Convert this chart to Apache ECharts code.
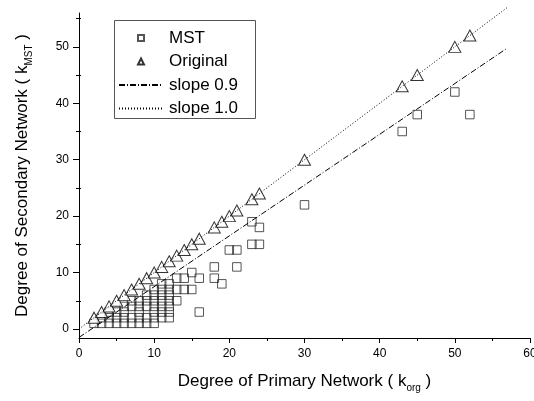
<!DOCTYPE html>
<html>
<head>
<meta charset="utf-8">
<script src="https://cdn.jsdelivr.net/npm/echarts@6.0.0/dist/echarts.min.js"></script>
<style>
  html, body { margin: 0; padding: 0; background: #fff; }
  #chart { width: 534px; height: 401px; }
</style>
</head>
<body>
<div id="chart"></div>
<script>
// MST network: degree in primary network (x) vs degree in secondary network (y)
const mstK = [
  2,
  3, 3,
  4, 4, 4,
  5, 5, 5,
  6, 6, 6, 6,
  7, 7, 7, 7,
  8, 8, 8, 8, 8,
  9, 9, 9, 9, 9,
  10, 10, 10, 10, 10, 10, 10,
  11, 11, 11, 11, 11, 11, 11,
  12, 12, 12, 12, 12, 12, 12,
  13, 13, 13,
  14, 14,
  15, 15,
  16, 16,
  18, 18, 19, 20, 21, 21, 23, 23, 24, 24, 30, 43, 45, 50, 52
];
const mstDeg = [
  1,
  1, 2,
  1, 2, 3,
  1, 2, 3,
  1, 2, 3, 4,
  1, 2, 4, 5,
  1, 2, 3, 4, 5,
  1, 2, 4, 5, 6,
  1, 2, 3, 4, 5, 6, 7,
  2, 3, 4, 5, 6, 7, 8,
  2, 3, 4, 5, 6, 7, 8,
  5, 7, 9,
  7, 9,
  7, 10,
  3, 9,
  9, 11, 8, 14, 11, 14, 15, 19, 15, 18, 22, 35, 38, 42, 38
];

// Original network (secondary degree equals primary degree)
const origK   = [2, 3, 4, 5, 6, 7, 8, 9, 10, 11, 12, 13, 14, 15, 16, 18, 19, 20, 21, 23, 24, 30, 43, 45, 50, 52];
const origDeg = [2, 3, 4, 5, 6, 7, 8, 9, 10, 11, 12, 13, 14, 15, 16, 18, 19, 20, 21, 23, 24, 30, 43, 45, 50, 52];

// reference lines, end points
const fitX     = [0, 57];
const slope09Y = [-1.5, 49.8];
const slope10Y = [0, 57];

const yTicks      = [0, 10, 20, 30, 40, 50];
const yMinorTicks = [5, 15, 25, 35, 45, 55];

const FONT = '"Liberation Sans", Arial, sans-serif';
const pair = (xs, ys) => xs.map((x, i) => [x, ys[i]]);

const chart = echarts.init(document.getElementById('chart'));

const nameRich = {
  a: { fontFamily: FONT, fontSize: 17, color: '#000', lineHeight: 24, verticalAlign: 'middle' },
  b: { fontFamily: FONT, fontSize: 10, color: '#000', lineHeight: 24, verticalAlign: 'bottom' }
};
const black = { color: '#000', width: 1 };

// extra y axes only carry the minor ticks (outside + inside, so they cross the line)
const minorY = (inside) => ({
  type: 'value', min: -1.6, max: 56, position: 'left',
  axisLine: { show: false },
  axisTick: { show: true, inside, length: inside ? 2 : 3, customValues: yMinorTicks, lineStyle: black },
  axisLabel: { show: false },
  splitLine: { show: false }
});

chart.setOption({
  animation: false,
  grid: { left: 79, right: 4, top: 13, bottom: 63, outerBoundsMode: 'none' },
  xAxis: {
    type: 'value', min: 0, max: 60, interval: 10,
    axisLine: { show: true, onZero: false, lineStyle: black },
    axisTick: { show: true, length: 5, lineStyle: black },
    minorTick: { show: true, splitNumber: 2, length: 3, lineStyle: black },
    splitLine: { show: false },
    axisLabel: { color: '#000', fontFamily: FONT, fontSize: 12, margin: 10, showMaxLabel: true, showMinLabel: true },
    name: '{a|Degree of Primary Network ( k}{b|org}{a| )}',
    nameLocation: 'middle', nameGap: 31,
    nameTextStyle: { rich: nameRich }
  },
  yAxis: [
    {
      type: 'value', min: -1.6, max: 56, position: 'left',
      axisLine: { show: true, onZero: false, lineStyle: black },
      axisTick: { show: true, length: 6, customValues: yTicks, lineStyle: black },
      axisLabel: { customValues: yTicks, color: '#000', fontFamily: FONT, fontSize: 12, margin: 10 },
      splitLine: { show: false },
      name: '{a|Degree of Secondary Network ( k}{b|MST}{a| )}',
      nameLocation: 'middle', nameGap: 45,
      nameTextStyle: { rich: nameRich }
    },
    minorY(false),
    minorY(true)
  ],
  legend: [
    {
      data: ['MST', 'Original'], orient: 'vertical', left: 132, top: 24,
      itemWidth: 6, itemHeight: 6, itemGap: 5.5, selectedMode: false,
      textStyle: { fontFamily: FONT, fontSize: 17, color: '#000', lineHeight: 18, padding: [0, 0, 0, 20] }
    },
    {
      data: ['slope 0.9', 'slope 1.0'], orient: 'vertical', left: 113, top: 71,
      itemWidth: 43, itemHeight: 10, itemGap: 5.5, selectedMode: false,
      itemStyle: { color: 'rgba(0,0,0,0)', borderWidth: 0 },
      textStyle: { fontFamily: FONT, fontSize: 17, color: '#000', lineHeight: 18, padding: [0, 0, 0, 2] }
    }
  ],
  graphic: [{
    type: 'rect', left: 112, top: 18, z: 100, silent: true,
    shape: { width: 141, height: 98 },
    style: { fill: 'none', stroke: '#555', lineWidth: 1 }
  }],
  series: [
    {
      name: 'MST', type: 'scatter', symbol: 'rect', symbolSize: 8.5, z: 2,
      itemStyle: { color: 'rgba(255,255,255,0)', borderColor: '#2a2a2a', borderWidth: 1 },
      data: pair(mstK, mstDeg)
    },
    {
      name: 'Original', type: 'scatter', symbol: 'triangle', symbolSize: [12, 11], z: 3,
      itemStyle: { color: '#fff', borderColor: '#000', borderWidth: 1 },
      data: pair(origK, origDeg)
    },
    {
      name: 'slope 0.9', type: 'line', symbol: 'none', clip: false, z: 4,
      itemStyle: { color: '#000' },
      lineStyle: { color: '#000', width: 1, type: [6, 2, 1, 2] },
      data: pair(fitX, slope09Y)
    },
    {
      name: 'slope 1.0', type: 'line', symbol: 'none', clip: false, z: 4,
      itemStyle: { color: '#000' },
      lineStyle: { color: '#000', width: 1, type: [1, 2] },
      data: pair(fitX, slope10Y)
    }
  ]
});
</script>
</body>
</html>
